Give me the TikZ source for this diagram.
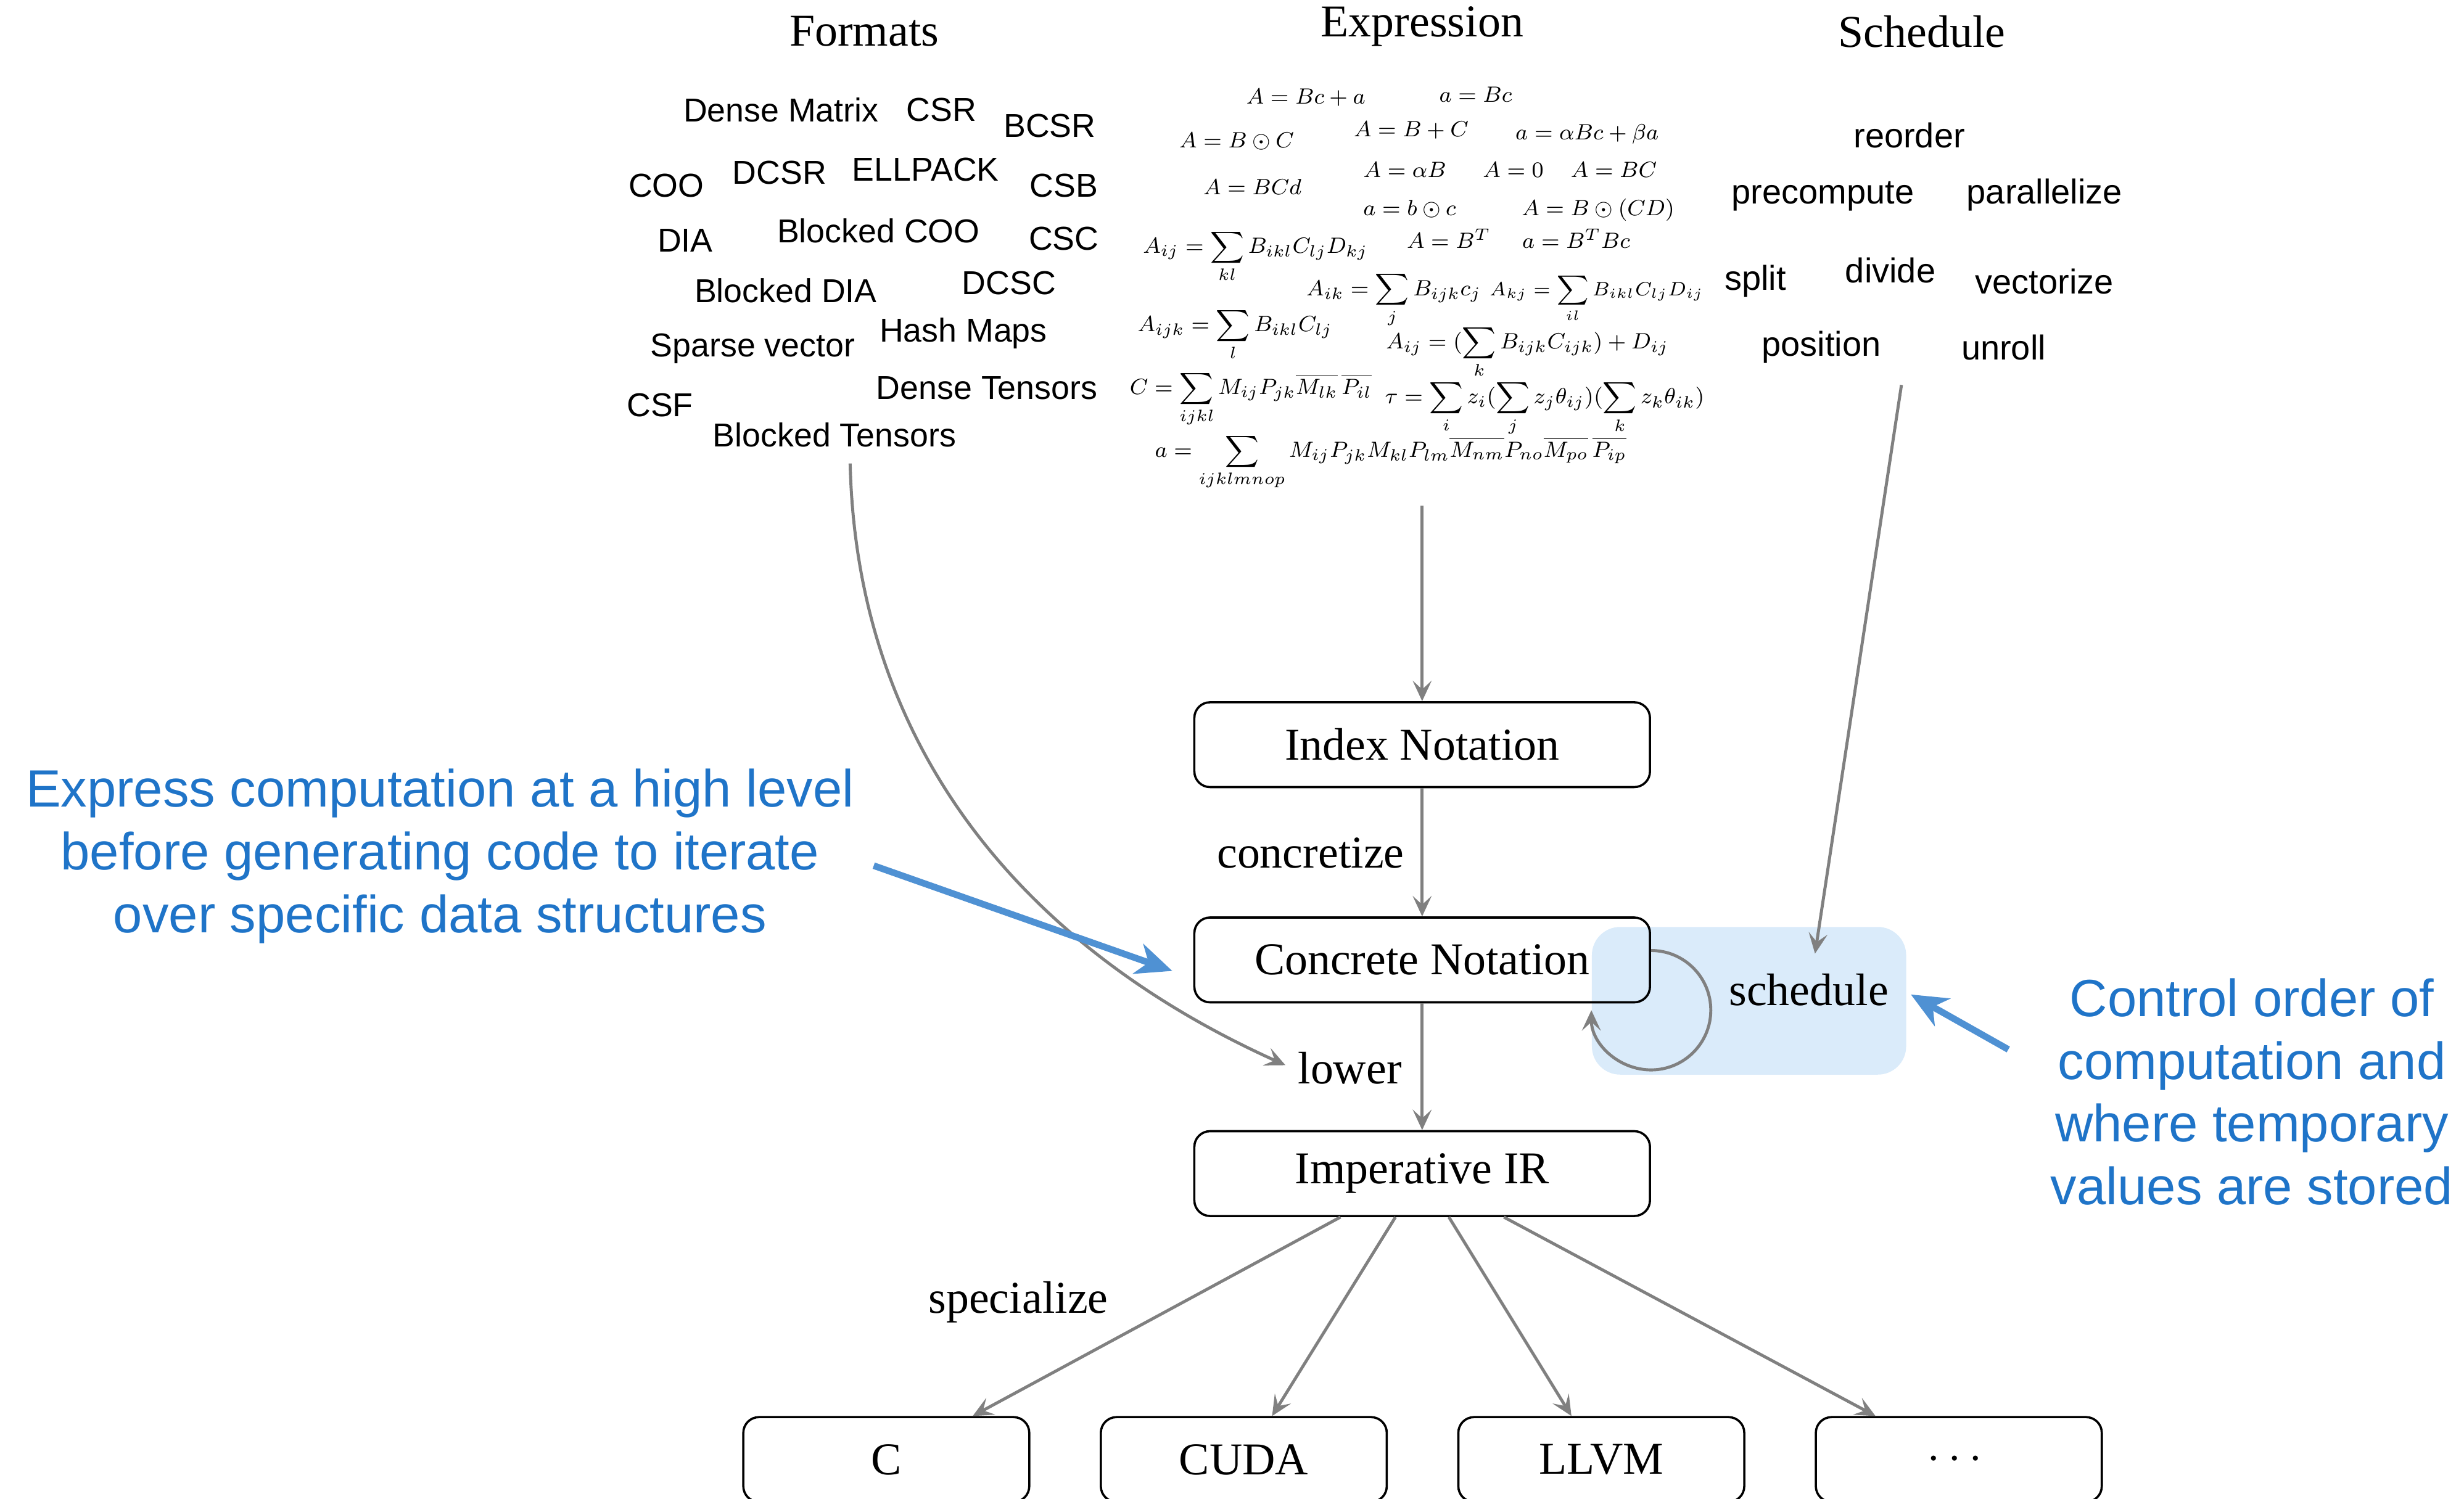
\documentclass[tikz,border=0pt]{standalone}
\usepackage{amsmath,amssymb}
\usepackage{fontspec}
\newfontfamily\helv{Liberation Sans}
\newfontfamily\tms{Liberation Serif}
\usetikzlibrary{arrows.meta,calc,positioning}
\definecolor{flowgray}{HTML}{808080}
\definecolor{notecolor}{HTML}{1F74C8}
\definecolor{notearrow}{HTML}{4F91D3}
\definecolor{schedfill}{HTML}{DAEBFA}
\tikzset{every picture/.style={line width=0.8pt}}
\tikzset{stage/.style={draw,rounded corners=0.2cm,minimum width=5.8cm,minimum height=1.08cm,font=\tms\fontsize{16.5}{19}\selectfont}}
\tikzset{target/.style={stage,minimum width=3.64cm}}
\tikzset{fmt/.style={font=\helv\fontsize{12}{14}\selectfont,inner sep=0pt}}
\tikzset{op/.style={font=\helv\fontsize{12.5}{15}\selectfont,inner sep=0pt}}
\tikzset{expr/.style={anchor=base,inner sep=0pt,font=\fontsize{8}{10}\selectfont}}
\tikzset{head/.style={font=\tms\fontsize{16.5}{19}\selectfont}}
\tikzset{note/.style={align=center,text=notecolor,font=\helv\fontsize{19}{22.7}\selectfont}}
\tikzset{flow/.style={->,>={Stealth[length=0.26cm,width=0.24cm,inset=0.11cm]},color=flowgray,line width=1.1pt}}
\tikzset{hint/.style={->,>={Stealth[length=0.46cm,width=0.4cm,inset=0.14cm]},color=notearrow,line width=2.4pt}}

\begin{document}
\begin{tikzpicture}[x=0.02cm,y=0.02cm]
\useasboundingbox (0,0) rectangle (1568,-954);
% column heads
\node[head] (fh) at (550,-20) {Formats};
\node[head] (eh) at (905,-17) {Expression};
\node[head] (sh) at (1223,-20) {Schedule};
% formats
\node[fmt] (dm) at (497,-70) {Dense Matrix};
\node[fmt] (csr) at (599,-70) {CSR};
\node[fmt] (bcsr) at (668,-80) {BCSR};
\node[fmt] (coo) at (424,-118) {COO};
\node[fmt] (dcsr) at (496,-110) {DCSR};
\node[fmt] (ell) at (589,-108) {ELLPACK};
\node[fmt] (csb) at (677,-118) {CSB};
\node[fmt] (dia) at (436,-153) {DIA};
\node[fmt] (bcoo) at (559,-147) {Blocked COO};
\node[fmt] (csc) at (677,-152) {CSC};
\node[fmt] (bdia) at (500,-185) {Blocked DIA};
\node[fmt] (dcsc) at (642,-180) {DCSC};
\node[fmt] (spv) at (479,-222) {Sparse vector};
\node[fmt] (hm) at (613,-212) {Hash Maps};
\node[fmt] (dt) at (628,-247) {Dense Tensors};
\node[fmt] (csf) at (420,-258) {CSF};
\node[fmt] (bt) at (531,-277) {Blocked Tensors};
% expressions
\node[expr] (x1) at (831,-66) {$A = Bc + a$};
\node[expr] (x2) at (939,-65) {$a = Bc$};
\node[expr] (x3) at (787,-94) {$A = B \odot C$};
\node[expr] (x4) at (898,-87) {$A = B + C$};
\node[expr] (x5) at (1010,-89) {$a = \alpha Bc + \beta a$};
\node[expr] (x6) at (894,-113) {$A = \alpha B$};
\node[expr] (x7) at (963,-113) {$A = 0$};
\node[expr] (x8) at (1027,-113) {$A = BC$};
\node[expr] (x9) at (797,-124) {$A = BCd$};
\node[expr] (x10) at (897,-137) {$a = b \odot c$};
\node[expr] (x11) at (1017,-137) {$A = B \odot (CD)$};
\node[expr] (x12) at (799,-161) {$A_{ij} = \displaystyle\sum_{kl} B_{ikl}C_{lj}D_{kj}$};
\node[expr] (x13) at (922,-158) {$A = B^T$};
\node[expr] (x14) at (1003,-158) {$a = B^T Bc$};
\node[expr] (x15) at (887,-188) {$A_{ik} = \displaystyle\sum_{j} B_{ijk}c_j$};
\node[expr,font=\fontsize{7.5}{9}\selectfont] (x16) at (1016,-188) {$A_{kj} = \displaystyle\sum_{il} B_{ikl}C_{lj}D_{ij}$};
\node[expr] (x17) at (786,-211) {$A_{ijk} = \displaystyle\sum_{l} B_{ikl}C_{lj}$};
\node[expr] (x18) at (972,-222) {$A_{ij} = (\displaystyle\sum_{k} B_{ijk}C_{ijk}) + D_{ij}$};
\node[expr] (x19) at (796,-251) {$C = \displaystyle\sum_{ijkl} M_{ij}P_{jk}\overline{M_{lk}}\,\overline{P_{il}}$};
\node[expr] (x20) at (983,-257) {$\tau = \displaystyle\sum_{i} z_i(\sum_{j} z_j\theta_{ij})(\sum_{k} z_k\theta_{ik})$};
\node[expr] (x21) at (885,-291) {$a = \displaystyle\sum_{ijklmnop} M_{ij}P_{jk}M_{kl}P_{lm}\overline{M_{nm}}P_{no}\overline{M_{po}}\,\overline{P_{ip}}$};
% schedule commands
\node[op] (ro) at (1215,-86) {reorder};
\node[op] (pc) at (1160,-125) {precompute};
\node[op] (par) at (1301,-124) {parallelize};
\node[op] (spl) at (1117,-179) {split};
\node[op] (dv) at (1203,-172) {divide};
\node[op] (vec) at (1301,-179) {vectorize};
\node[op] (pos) at (1159,-221) {position};
\node[op] (unr) at (1275,-221) {unroll};
% schedule region (behind the boxes)
\fill[schedfill,rounded corners=0.36cm] (1013,-590) rectangle (1213,-684);
% pipeline
\node[stage] (in) at (905,-474) {Index Notation};
\node[stage] (cn) at (905,-611) {Concrete Notation};
\node[stage] (ir) at (905,-747) {Imperative IR};
\node[target] (c) at (564,-929) {C};
\node[target] (cuda) at (791.5,-929) {CUDA};
\node[target] (llvm) at (1019,-929) {LLVM};
\node[target] (etc) at (1246.5,-929) {$\cdots$};
\node[font=\tms\fontsize{16.5}{19}\selectfont] (sc) at (1151,-630) {schedule};
\node[font=\tms\fontsize{16.5}{19}\selectfont] (conc) at (834,-543) {concretize};
\node[font=\tms\fontsize{16.5}{19}\selectfont] (lw) at (859,-680) {lower};
\node[font=\tms\fontsize{16.5}{19}\selectfont] (spec) at (648,-829) {specialize};
\coordinate (exsrc) at (905,-322);
\coordinate (fmsrc) at (541,-295);
\coordinate (fmend) at (818,-678);
\coordinate (scsrc) at (1210,-245);
\coordinate (scend) at (1155,-607);
\path[flow]
(exsrc) edge (in)
(in) edge (cn)
(cn) edge (ir)
(scsrc) edge (scend)
($(ir.south)+(-52,0)$) edge ($(c.north)+(55,0)$)
($(ir.south)+(-17,0)$) edge ($(cuda.north)+(18,0)$)
($(ir.south)+(17,0)$) edge ($(llvm.north)+(-19,0)$)
($(ir.south)+(52,0)$) edge ($(etc.north)+(-53,0)$);
\draw[flow] (fmsrc) .. controls (545,-470) and (645,-600) .. (fmend);
\draw[flow] ($(cn.east)+(0,6)$) arc[start angle=90,end angle=-180,radius=38];
% notes
\node[note] (ln) at (280,-545) {Express computation at a high level\\before generating code to iterate\\over specific data structures};
\node[note] (rn) at (1433,-695) {Control order of\\computation and\\where temporary\\values are stored};
\coordinate (lnsrc) at (556,-551);
\coordinate (lnend) at (746,-618);
\coordinate (rnsrc) at (1278,-668);
\coordinate (rnend) at (1216,-633);
\draw[hint] (lnsrc) -- (lnend);
\draw[hint] (rnsrc) -- (rnend);
\end{tikzpicture}
\end{document}
